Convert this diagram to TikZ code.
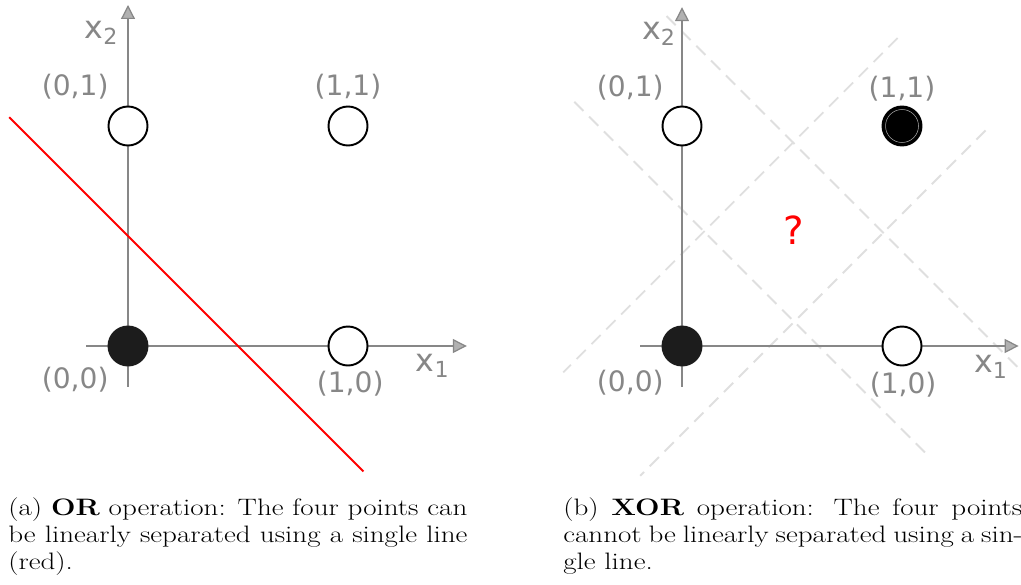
\documentclass[tikz,border=0pt]{standalone}
\usepackage{fontspec}
\newfontfamily\lblfont{DejaVu Sans}
\usepackage{tikz}
\usetikzlibrary{arrows.meta}

\definecolor{axgray}{HTML}{878787}
\definecolor{dotblack}{HTML}{1C1C1C}
\definecolor{guidegray}{HTML}{DFDFDF}

\tikzset{
    axis/.style={draw=axgray, line width=1.6pt, -{Triangle[length=0.28cm, width=0.28cm, fill=axgray!65, line width=0.7pt]}},
    lbl/.style={text=axgray, font=\lblfont\fontsize{16}{18}\selectfont, inner sep=0pt},
    axlbl/.style={lbl, font=\lblfont\fontsize{18}{20}\selectfont},
    openpt/.style={circle, draw=black, fill=white, line width=1.1pt, minimum size=0.78cm, inner sep=0pt},
    fullpt/.style={openpt, draw=dotblack, fill=dotblack},
    sepline/.style={draw=red, line width=1.1pt},
    guide/.style={draw=guidegray, line width=1.1pt, dash pattern=on 0.26cm off 0.16cm},
    capbox/.style={anchor=north west, inner sep=0pt}
}
\newcommand{\captext}[1]{\scalebox{1}[0.82]{\parbox[t]{9.18cm}{\fontsize{16.5}{18.8}\selectfont #1}}}

\begin{document}
\begin{tikzpicture}
    \useasboundingbox (0,0) rectangle (20.42,11.68);

    %左の図 (OR)
    \begin{scope}[shift={(2.56,4.76)}, x=4.4cm, y=4.4cm]
        \coordinate (ax0) at (-0.19,0); \coordinate (ax1) at (1.54,0); %x軸
        \coordinate (ay0) at (0,-0.186); \coordinate (ay1) at (0,1.55); %y軸
        \draw[axis](ax0)--(ax1);
        \draw[axis](ay0)--(ay1);
        \node[axlbl] (x1a) at (1.385,-0.09) {x\textsubscript{1}};
        \node[axlbl] (x2a) at (-0.12,1.425) {x\textsubscript{2}};

        \node[fullpt] (p00a) at (0,0) {};
        \node[openpt] (p10a) at (1,0) {};
        \node[openpt] (p01a) at (0,1) {};
        \node[openpt] (p11a) at (1,1) {};
        \node[lbl] (l00a) at (-0.24,-0.155) {(0,0)};
        \node[lbl] (l10a) at (1.01,-0.17) {(1,0)};
        \node[lbl] (l01a) at (-0.24,1.18) {(0,1)};
        \node[lbl] (l11a) at (1,1.18) {(1,1)};

        \coordinate (sa) at (-0.54,1.04); \coordinate (sb) at (1.07,-0.57); %赤い直線 x+y=0.5
        \draw[sepline](sa)--(sb);
    \end{scope}

    %右の図 (XOR)
    \begin{scope}[shift={(13.64,4.76)}, x=4.4cm, y=4.4cm]
        \coordinate (ga0) at (-0.49,1.11); \coordinate (ga1) at (1.11,-0.49); %うすい点線
        \coordinate (gb0) at (-0.07,1.50); \coordinate (gb1) at (1.53,-0.10);
        \coordinate (gc0) at (0.98,1.40); \coordinate (gc1) at (-0.54,-0.12);
        \coordinate (gd0) at (1.38,0.98); \coordinate (gd1) at (-0.19,-0.59);
        \draw[guide](ga0)--(ga1);
        \draw[guide](gb0)--(gb1);
        \draw[guide](gc0)--(gc1);
        \draw[guide](gd0)--(gd1);

        \coordinate (bx0) at (-0.19,0); \coordinate (bx1) at (1.53,0);
        \coordinate (by0) at (0,-0.186); \coordinate (by1) at (0,1.54);
        \draw[axis](bx0)--(bx1);
        \draw[axis](by0)--(by1);
        \node[axlbl] (x1b) at (1.405,-0.095) {x\textsubscript{1}};
        \node[axlbl] (x2b) at (-0.105,1.42) {x\textsubscript{2}};

        \node[fullpt] (p00b) at (0,0) {};
        \node[openpt] (p10b) at (1,0) {};
        \node[openpt] (p01b) at (0,1) {};
        \node[fullpt, draw=black, fill=black] (p11b) at (1,1) {};
        \draw[gray!70, line width=0.3pt](p11b) circle (0.33cm); %内側のうすい輪
        \node[lbl] (l00b) at (-0.235,-0.167) {(0,0)};
        \node[lbl] (l10b) at (1.005,-0.176) {(1,0)};
        \node[lbl] (l01b) at (-0.235,1.176) {(0,1)};
        \node[lbl] (l11b) at (1,1.17) {(1,1)};

        \node[text=red, font=\lblfont\fontsize{22}{24}\selectfont, inner sep=0pt] (qm) at (0.507,0.525) {?};
    \end{scope}

    %キャプション
    \node[capbox] (capa) at (0.16,1.74) {\captext{(a) \textbf{OR} operation: The four points can\linebreak be linearly separated using a single line\linebreak (red).}};
    \node[capbox] (capb) at (11.26,1.74) {\captext{(b) \textbf{XOR} operation: The four points\linebreak cannot be linearly separated using a sin-\linebreak gle line.}};
\end{tikzpicture}
\end{document}
